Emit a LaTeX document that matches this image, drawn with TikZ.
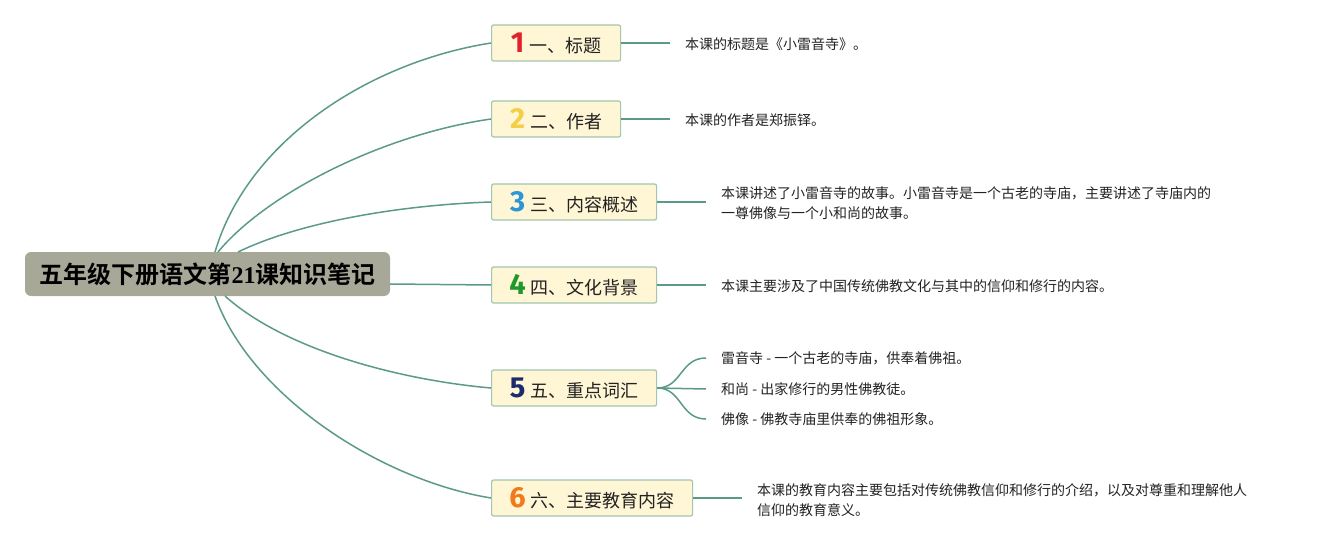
\documentclass[tikz,border=0pt]{standalone}
\usepackage{fontspec}
\setmainfont{Noto Sans CJK SC}
\newfontfamily\cjkb{Noto Sans CJK SC Bold}
\newfontfamily\serb{Liberation Serif}
\newfontfamily\numf{Fira Sans}
\definecolor{linec}{HTML}{5B9A87}
\definecolor{rootfill}{HTML}{A8A898}
\definecolor{boxfill}{HTML}{FFF6D6}
\definecolor{boxdraw}{HTML}{A3C6AE}
\definecolor{cA}{HTML}{E0222E}
\definecolor{cB}{HTML}{F4CF45}
\definecolor{cC}{HTML}{2B97D6}
\definecolor{cD}{HTML}{1E9A2A}
\definecolor{cE}{HTML}{1C2A6E}
\definecolor{cF}{HTML}{F27A1A}
\definecolor{txt}{HTML}{222222}
\tikzset{
  rootbox/.style={fill=rootfill, rounded corners=6pt, minimum width=365pt, minimum height=44pt, inner sep=0pt, font=\fontsize{24}{26}\selectfont\cjkb, text=black},
  branchbox/.style={fill=boxfill, draw=boxdraw, line width=1.2pt, rounded corners=2pt, minimum height=36pt, inner sep=0pt, font=\fontsize{18}{20}\selectfont, text=txt, anchor=west},
  leaf/.style={anchor=west, inner sep=0pt, align=left, font=\fontsize{14}{20}\selectfont, text=txt},
  conn/.style={draw=linec, line width=1.5pt},
}
\newcommand{\dig}[2]{{\numf\bfseries\fontsize{29}{29}\selectfont\color{#1}#2}\hspace{5pt}}
\begin{document}
\begin{tikzpicture}[x=1pt,y=-1pt]
\useasboundingbox (0,0) rectangle (1317,548);
\node[rootbox] (root) at (207.5,274) {五年级下册语文第{\serb\bfseries 21}课知识笔记};

\node[branchbox, minimum width=129pt] (b1) at (491,43) {\dig{cA}{1}一、标题};
\node[branchbox, minimum width=129pt] (b2) at (491,119) {\dig{cB}{2}二、作者};
\node[branchbox, minimum width=165pt] (b3) at (491,202) {\dig{cC}{3}三、内容概述};
\node[branchbox, minimum width=165pt] (b4) at (491,285) {\dig{cD}{4}四、文化背景};
\node[branchbox, minimum width=165pt] (b5) at (491,388) {\dig{cE}{5}五、重点词汇};
\node[branchbox, minimum width=201pt] (b6) at (491,498) {\dig{cF}{6}六、主要教育内容};

\coordinate (r1) at (215,252);
\coordinate (r2) at (218,252);
\coordinate (r3) at (238,252);
\coordinate (r4) at (390,284);
\coordinate (r5) at (225,296);
\coordinate (r6) at (215,296);

\draw[conn] (r1) .. controls (248,140) and (370,62) .. (b1.west);
\draw[conn] (r2) .. controls (265,195) and (380,135) .. (b2.west);
\draw[conn] (r3) .. controls (300,222) and (400,205) .. (b3.west);
\draw[conn] (r4) -- (b4.west);
\draw[conn] (r5) .. controls (285,350) and (400,380) .. (b5.west);
\draw[conn] (r6) .. controls (250,395) and (380,480) .. (b6.west);

\coordinate (e1) at (670,43);
\coordinate (e2) at (670,119);
\coordinate (e3) at (706,202);
\coordinate (e4) at (706,285);
\coordinate (e5a) at (706,358);
\coordinate (e5b) at (706,389);
\coordinate (e5c) at (706,419);
\coordinate (e6) at (742,498);

\draw[conn] (b1.east) -- (e1);
\draw[conn] (b2.east) -- (e2);
\draw[conn] (b3.east) -- (e3);
\draw[conn] (b4.east) -- (e4);
\draw[conn] (b5.east) .. controls (682,388) and (680,358) .. (e5a);
\draw[conn] (b5.east) -- (e5b);
\draw[conn] (b5.east) .. controls (682,388) and (680,419) .. (e5c);
\draw[conn] (b6.east) -- (e6);

\node[leaf] (l1) at (685,44) {本课的标题是《小雷音寺》。};
\node[leaf] (l2) at (685,120) {本课的作者是郑振铎。};
\node[leaf] (l3) at (721,203) {本课讲述了小雷音寺的故事。小雷音寺是一个古老的寺庙，主要讲述了寺庙内的\\一尊佛像与一个小和尚的故事。};
\node[leaf] (l4) at (721,286) {本课主要涉及了中国传统佛教文化与其中的信仰和修行的内容。};
\node[leaf] (l5a) at (721,358) {雷音寺 - 一个古老的寺庙，供奉着佛祖。};
\node[leaf] (l5b) at (721,389) {和尚 - 出家修行的男性佛教徒。};
\node[leaf] (l5c) at (721,419) {佛像 - 佛教寺庙里供奉的佛祖形象。};
\node[leaf] (l6) at (757,500) {本课的教育内容主要包括对传统佛教信仰和修行的介绍，以及对尊重和理解他人\\信仰的教育意义。};
\end{tikzpicture}
\end{document}
